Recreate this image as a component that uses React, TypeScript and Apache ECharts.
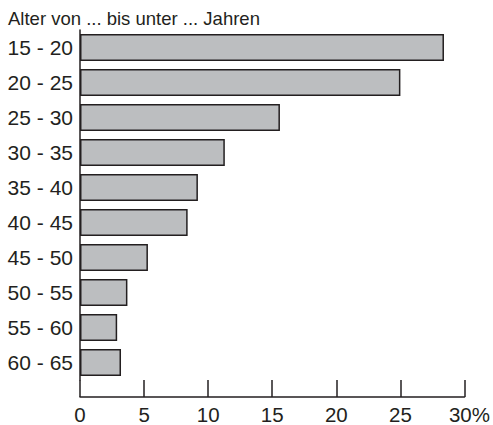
import React, { useEffect, useRef } from "react";
import * as echarts from "echarts";

const categories = ["15 - 20", "20 - 25", "25 - 30", "30 - 35", "35 - 40", "40 - 45", "45 - 50", "50 - 55", "55 - 60", "60 - 65"];
const values = [28.4, 25.0, 15.6, 11.3, 9.2, 8.4, 5.3, 3.7, 2.9, 3.2];
const xTicks = [0, 5, 10, 15, 20, 25, 30];
const titleText = "Alter von ... bis unter ... Jahren";

const FONT = "'Liberation Sans', Arial, sans-serif";
const DARK = "#231f20";

export default function App() {
  const ref = useRef<HTMLDivElement>(null);
  useEffect(() => {
    document.body.style.margin = "0";
    if (!ref.current) return;
    const chart = echarts.init(ref.current, undefined, { renderer: "svg" });
    chart.setOption({
      animation: false,
      backgroundColor: "#ffffff",
      textStyle: { fontFamily: FONT },
      title: {
        text: titleText,
        left: 3,
        top: 4,
        textStyle: { fontSize: 18.5, fontWeight: "normal", color: DARK, fontFamily: FONT },
      },
      grid: { left: 80, right: 28.5, top: 30, bottom: 42, containLabel: false },
      xAxis: {
        type: "value",
        min: xTicks[0],
        max: xTicks[xTicks.length - 1],
        interval: 5,
        position: "bottom",
        offset: 17,
        axisLine: { show: true, lineStyle: { color: DARK, width: 1.5 } },
        axisTick: { show: true, inside: true, length: 17, lineStyle: { color: DARK, width: 1.5 } },
        splitLine: { show: false },
        axisLabel: {
          margin: 7,
          fontSize: 20.5,
          color: DARK,
          fontFamily: FONT,
          formatter: (v: number) => (v === xTicks[xTicks.length - 1] ? `{last|${v}%}` : `${v}`),
          rich: { last: { fontSize: 20.5, color: DARK, fontFamily: FONT, padding: [0, 0, 0, 10] } },
        },
      },
      yAxis: {
        type: "category",
        inverse: true,
        data: categories,
        axisLine: { show: true, lineStyle: { color: DARK, width: 1.5 } },
        axisTick: { show: false },
        splitLine: { show: false },
        axisLabel: { margin: 7, fontSize: 21, color: DARK, fontFamily: FONT },
      },
      series: [
        {
          type: "bar",
          data: values,
          barWidth: 27,
          itemStyle: { color: "#bcbec0", borderColor: DARK, borderWidth: 1.5 },
        },
      ],
    });
    return () => chart.dispose();
  }, []);
  return <div ref={ref} style={{ width: 493, height: 425 }} />;
}
